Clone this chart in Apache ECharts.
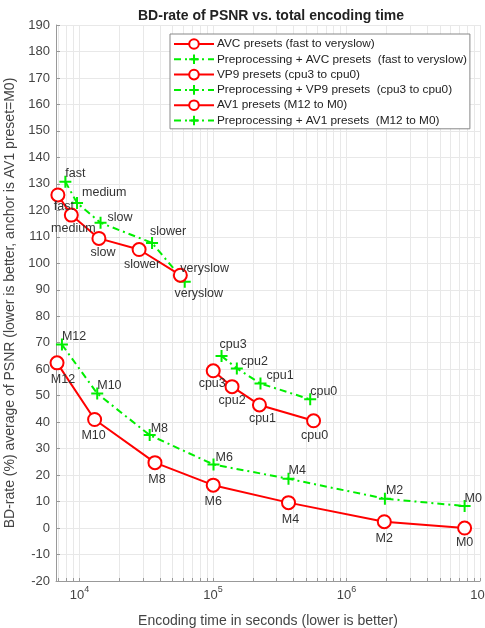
<!DOCTYPE html>
<html>
<head>
<meta charset="utf-8">
<script src="https://cdn.jsdelivr.net/npm/echarts@6/dist/echarts.min.js"></script>
<style>html,body{margin:0;padding:0;background:#fff;}#c{width:485px;height:628px;}</style>
</head>
<body>
<div id="c"></div>
<script>
// ---- data ----
const avcPresets = ['fast', 'medium', 'slow', 'slower', 'veryslow'];
const vp9Presets = ['cpu3', 'cpu2', 'cpu1', 'cpu0'];
const av1Presets = ['M12', 'M10', 'M8', 'M6', 'M4', 'M2', 'M0'];

const avcTime = [6900, 8700, 14000, 28000, 57000];
const avcBD = [125.8, 118.2, 109.4, 105.2, 95.5];
const ppAvcTime = [7850, 9600, 14400, 35000, 61500];
const ppAvcBD = [130.8, 122.8, 115.3, 107.7, 93.0];

const vp9Time = [100500, 139000, 223000, 567000];
const vp9BD = [59.4, 53.4, 46.5, 40.5];
const ppVp9Time = [116000, 151000, 227000, 535000];
const ppVp9BD = [65.0, 60.3, 54.6, 48.6];

const av1Time = [6800, 13000, 36800, 100500, 368000, 1920000, 7670000];
const av1BD = [62.4, 41.0, 24.7, 16.2, 9.6, 2.4, 0];
const ppAv1Time = [7400, 13600, 33600, 101000, 368000, 1940000, 7670000];
const ppAv1BD = [69.3, 50.8, 35.1, 24.0, 18.6, 11.1, 8.3];

const seriesNames = [
  'AVC presets (fast to veryslow)',
  'Preprocessing + AVC presets  (fast to veryslow)',
  'VP9 presets (cpu3 to cpu0)',
  'Preprocessing + VP9 presets  (cpu3 to cpu0)',
  'AV1 presets (M12 to M0)',
  'Preprocessing + AV1 presets  (M12 to M0)'
];
const xMajorTicks = [1e4, 1e5, 1e6, 1e7];
const yTicks = { min: -20, max: 190, step: 10 };

// ---- styles (label placement) ----
const redLabelOffsets = {
  0: [[6, 12, 'center'], [2, 13, 'center'], [4, 14, 'center'], [3, 15, 'center'], [0, -7, 'left']],
  2: [[-1, 13, 'center'], [0, 14, 'center'], [3, 14, 'center'], [1, 15, 'center']],
  4: [[6, 17, 'center'], [-1, 16, 'center'], [2, 17, 'center'], [0, 16, 'center'], [2, 17, 'center'], [0, 17, 'center'], [0, 14, 'center']]
};
const greenLabelOffsets = {
  1: [[0, -8, 'left'], [5, -10, 'left'], [7, -5, 'left'], [-2, -11, 'left'], [14, 12, 'center']],
  3: [[-2, -11, 'left'], [4, -7, 'left'], [6, -8, 'left'], [0, -8, 'left']],
  5: [[0, -8, 'left'], [0, -8, 'left'], [1, -7, 'left'], [2, -7, 'left'], [0, -8, 'left'], [1, -8, 'left'], [0, -8, 'left']]
};

const RED = '#ff0000', GREEN = '#00ee00';
const FONT = 'Liberation Sans, Arial, sans-serif';
const plusPath = 'path://M0,6L12,6M6,0L6,12';

function buildData(times, vals, names, offsets) {
  return times.map((t, i) => {
    const o = offsets[i];
    return {
      value: [t, vals[i]],
      name: names[i],
      label: { offset: [o[0], o[1]], align: o[2] }
    };
  });
}

function mkSeries(idx, times, vals, names, isPP) {
  const offs = isPP ? greenLabelOffsets[idx] : redLabelOffsets[idx];
  return {
    name: seriesNames[idx],
    type: 'line',
    data: buildData(times, vals, names, offs),
    color: isPP ? GREEN : RED,
    symbol: isPP ? plusPath : 'emptyCircle',
    symbolSize: isPP ? 12 : 13,
    showAllSymbol: true,
    itemStyle: isPP ? { color: 'none', borderColor: GREEN, borderWidth: 2 } : { color: RED, borderColor: RED, borderWidth: 2 },
    lineStyle: isPP ? { color: GREEN, width: 2, type: [7, 4, 2, 4] } : { color: RED, width: 2 },
    label: {
      show: true,
      position: 'inside',
      formatter: p => p.name,
      fontFamily: FONT,
      fontSize: 12.5,
      color: '#333'
    },
    emphasis: { disabled: true },
    animation: false,
    z: isPP ? 3 : 4
  };
}

const minorTicks = [];
[1e3, 1e4, 1e5, 1e6].forEach(d => { for (let k = 1; k <= 10; k++) minorTicks.push(k * d); });

const chart = echarts.init(document.getElementById('c'), null, { renderer: 'canvas' });
chart.setOption({
  backgroundColor: '#fff',
  animation: false,
  textStyle: { fontFamily: FONT },
  title: {
    text: 'BD-rate of PSNR vs. total encoding time',
    left: 133, top: 4,
    textStyle: { fontSize: 14, fontWeight: 'bold', color: '#222', fontFamily: FONT }
  },
  grid: { left: 56, right: 5, top: 25, bottom: 47, containLabel: false, outerBoundsMode: 'none' },
  legend: {
    orient: 'vertical',
    left: 170, top: 34,
    padding: [4, 3, 1, 3],
    itemWidth: 40, itemHeight: 12, itemGap: 2,
    backgroundColor: '#fff',
    borderColor: '#888', borderWidth: 1,
    textStyle: { fontSize: 11.8, color: '#222', padding: [0, 0, 0, -2] },
    data: seriesNames
  },
  xAxis: {
    type: 'log', logBase: 10,
    min: 6680, max: 1e7,
    name: 'Encoding time in seconds (lower is better)',
    nameLocation: 'middle', nameGap: 33,
    nameTextStyle: { fontSize: 14, color: '#444' },
    axisLine: { show: true, onZero: false, lineStyle: { color: '#999', width: 1 } },
    axisTick: { show: true, inside: true, length: 3, customValues: minorTicks, lineStyle: { color: '#999' } },
    axisLabel: {
      customValues: xMajorTicks,
      margin: 4,
      formatter: v => '{a|10}{b|' + Math.round(Math.log10(v)) + '}',
      rich: {
        a: { fontSize: 13, color: '#444', padding: [4, 0, 0, 0], verticalAlign: 'bottom' },
        b: { fontSize: 9, color: '#444', verticalAlign: 'top' }
      }
    },
    splitLine: { show: true, lineStyle: { color: '#e8e8e8', width: 1 } },
    minorSplitLine: { show: false }
  },
  yAxis: {
    type: 'value',
    min: yTicks.min, max: yTicks.max, interval: yTicks.step,
    name: 'BD-rate (%) average of PSNR (lower is better, anchor is AV1 preset=M0)',
    nameLocation: 'middle', nameGap: 31,
    nameTextStyle: { fontSize: 14, color: '#444' },
    axisLine: { show: true, onZero: false, lineStyle: { color: '#999', width: 1 } },
    axisTick: { show: true, inside: true, length: 4, lineStyle: { color: '#999' } },
    axisLabel: { fontSize: 13, color: '#444', margin: 6 },
    splitLine: { show: true, lineStyle: { color: '#e8e8e8', width: 1 } }
  },
  series: [
    mkSeries(0, avcTime, avcBD, avcPresets, false),
    mkSeries(1, ppAvcTime, ppAvcBD, avcPresets, true),
    mkSeries(2, vp9Time, vp9BD, vp9Presets, false),
    mkSeries(3, ppVp9Time, ppVp9BD, vp9Presets, true),
    mkSeries(4, av1Time, av1BD, av1Presets, false),
    mkSeries(5, ppAv1Time, ppAv1BD, av1Presets, true)
  ]
});
</script>
</body>
</html>
